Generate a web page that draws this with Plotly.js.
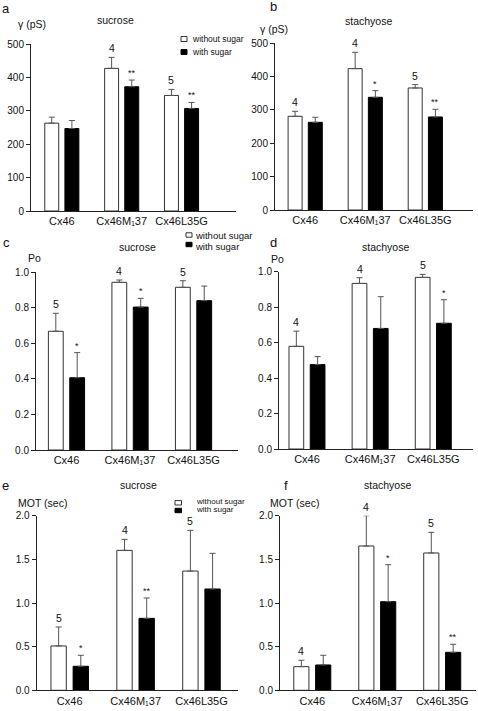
<!DOCTYPE html>
<html><head><meta charset="utf-8">
<script src="https://cdn.plot.ly/plotly-3.0.1.min.js"></script>
<style>html,body{margin:0;padding:0;background:#fff;}#chart{width:478px;height:711px;}</style>
</head><body><div id="chart"></div>
<script>
// ---------- data ----------
const categories = ["Cx46", "Cx46M137", "Cx46L35G"];
const tickLabels = ["Cx46", "Cx46M\u208137", "Cx46L35G"];
const seriesNames = ["without sugar", "with sugar"];

// a: gamma (pS), sucrose
const gammaSucWithout = [263, 427, 346];
const gammaSucWithoutErr = [18, 33, 18];
const gammaSucWith = [247, 372, 307];
const gammaSucWithErr = [24, 20, 18];
const gammaSucWithoutLbl = ["", "4", "5"];
const gammaSucWithLbl = ["", "**", "**"];

// b: gamma (pS), stachyose
const gammaStaWithout = [281, 424, 366];
const gammaStaWithoutErr = [15, 49, 10];
const gammaStaWith = [263, 338, 279];
const gammaStaWithErr = [15, 20, 23];
const gammaStaWithoutLbl = ["4", "4", "5"];
const gammaStaWithLbl = ["", "*", "**"];

// c: Po, sucrose
const poSucWithout = [0.667, 0.942, 0.914];
const poSucWithoutErr = [0.101, 0.013, 0.037];
const poSucWith = [0.406, 0.803, 0.839];
const poSucWithErr = [0.141, 0.049, 0.082];
const poSucWithoutLbl = ["5", "4", "5"];
const poSucWithLbl = ["*", "*", ""];

// d: Po, stachyose
const poStaWithout = [0.579, 0.934, 0.968];
const poStaWithoutErr = [0.086, 0.032, 0.017];
const poStaWith = [0.476, 0.680, 0.709];
const poStaWithErr = [0.045, 0.179, 0.133];
const poStaWithoutLbl = ["4", "4", "5"];
const poStaWithLbl = ["", "", "*"];

// e: MOT (sec), sucrose
const motSucWithout = [0.508, 1.603, 1.366];
const motSucWithoutErr = [0.217, 0.126, 0.466];
const motSucWith = [0.275, 0.824, 1.160];
const motSucWithErr = [0.126, 0.233, 0.409];
const motSucWithoutLbl = ["5", "4", "5"];
const motSucWithLbl = ["*", "**", ""];

// f: MOT (sec), stachyose
const motStaWithout = [0.271, 1.653, 1.573];
const motStaWithoutErr = [0.073, 0.347, 0.236];
const motStaWith = [0.290, 1.015, 0.435];
const motStaWithErr = [0.111, 0.424, 0.092];
const motStaWithoutLbl = ["4", "4", "5"];
const motStaWithLbl = ["", "*", "**"];

// ---------- layout / style ----------
const W = 478, H = 711;
const FONT = "Liberation Sans, Arial, Helvetica, sans-serif";
const px = v => v / W;
const py = v => 1 - v / H;
const BARGAP = 0.327, GROUPGAP = 0.307;
const half = (1 - BARGAP) / 4;
const FILLS = ["#ffffff", "#000000"];
const OUTLINES = ["#333333", "#000000"];

const panels = [
  {letter: "a", title: "sucrose", ylabel: "γ (pS)", w: gammaSucWithout, we: gammaSucWithoutErr, b: gammaSucWith, be: gammaSucWithErr, wl: gammaSucWithoutLbl, bl: gammaSucWithLbl,
   box: [31, 236, 44, 211], xr: [-0.515, 2.91], yr: [0, 500], dtick: 100, fmt: "d",
   letterPos: [0, 8], titlePos: [115, 20], ylabelPos: [32, 24],
   legend: {sx: [181, 187], sy: [39, 52], sh: 2.5, tx: 191, ty: [39, 52], size: 8.5}},
  {letter: "b", title: "stachyose", ylabel: "γ (pS)", w: gammaStaWithout, we: gammaStaWithoutErr, b: gammaStaWith, be: gammaStaWithErr, wl: gammaStaWithoutLbl, bl: gammaStaWithLbl,
   box: [275, 473, 43.3, 210], xr: [-0.503, 2.794], yr: [0, 500], dtick: 100, fmt: "d",
   letterPos: [268, 7], titlePos: [368, 21], ylabelPos: [274, 29]},
  {letter: "c", title: "sucrose", ylabel: "Po", w: poSucWithout, we: poSucWithoutErr, b: poSucWith, be: poSucWithErr, wl: poSucWithoutLbl, bl: poSucWithLbl,
   box: [36, 238, 272, 450], xr: [-0.48, 2.70], yr: [0, 1], dtick: 0.2, fmt: ".1f",
   letterPos: [1, 242], titlePos: [137, 247], ylabelPos: [34, 258],
   legend: {sx: [186, 192], sy: [235, 244.5], sh: 2.2, tx: 194, ty: [235.5, 246], size: 9.5}},
  {letter: "d", title: "stachyose", ylabel: "Po", w: poStaWithout, we: poStaWithoutErr, b: poStaWith, be: poStaWithErr, wl: poStaWithoutLbl, bl: poStaWithLbl,
   box: [279, 473, 271.7, 449], xr: [-0.443, 2.629], yr: [0, 1], dtick: 0.2, fmt: ".1f",
   letterPos: [268, 242], titlePos: [385, 247], ylabelPos: [277, 259]},
  {letter: "e", title: "sucrose", ylabel: "MOT (sec)", w: motSucWithout, we: motSucWithoutErr, b: motSucWith, be: motSucWithErr, wl: motSucWithoutLbl, bl: motSucWithLbl,
   box: [36.7, 238, 515.7, 690.3], xr: [-0.501, 2.554], yr: [0, 2], dtick: 0.5, fmt: ".1f",
   letterPos: [0, 485], titlePos: [138, 485], ylabelPos: [42, 503],
   legend: {sx: [175, 181.5], sy: [502.8, 510.5], sh: 2.2, tx: 194.7, ty: [501.3, 509.5], size: 8}},
  {letter: "f", title: "stachyose", ylabel: "MOT (sec)", w: motStaWithout, we: motStaWithoutErr, b: motStaWith, be: motStaWithErr, wl: motStaWithoutLbl, bl: motStaWithLbl,
   box: [280, 476, 515.7, 690.3], xr: [-0.497, 2.52], yr: [0, 2], dtick: 0.5, fmt: ".1f",
   letterPos: [282, 485], titlePos: [387, 485], ylabelPos: [294, 503]}
];

const traces = [];
const annotations = [];
const shapes = [];
const layout = {
  width: W, height: H,
  margin: {l: 0, r: 0, t: 0, b: 0},
  paper_bgcolor: "#fff", plot_bgcolor: "rgba(0,0,0,0)",
  barmode: "group", bargap: BARGAP, bargroupgap: GROUPGAP,
  font: {family: FONT, color: "#111", size: 10},
  showlegend: false
};

panels.forEach((p, i) => {
  const n = i === 0 ? "" : String(i + 1);
  const xa = "x" + n, ya = "y" + n;
  const zeros = categories.map(() => 0);
  const series = [
    {name: seriesNames[0], y: p.w, err: p.we, lbl: p.wl, side: -1},
    {name: seriesNames[1], y: p.b, err: p.be, lbl: p.bl, side: 1}
  ];
  series.forEach((s, k) => {
    traces.push({
      type: "bar", x: categories, y: s.y, name: s.name,
      xaxis: xa, yaxis: ya,
      marker: {color: FILLS[k], line: {color: OUTLINES[k], width: 1}},
      error_y: {type: "data", array: s.err, arrayminus: zeros, symmetric: false,
                color: "#555", thickness: 1, width: 3},
      showlegend: false
    });
    s.lbl.forEach((txt, j) => {
      if (!txt) return;
      const star = txt.indexOf("*") >= 0;
      annotations.push({
        xref: xa, yref: ya, x: j + s.side * half, y: s.y[j] + s.err[j],
        text: txt, showarrow: false, xanchor: "center", yanchor: "bottom",
        yshift: star ? 0 : 1,
        font: {family: FONT, size: star ? 9 : 10.5, color: "#111"}
      });
    });
  });

  const [x0, x1, yTop, yBot] = p.box;
  layout["xaxis" + n] = {
    type: "category", categoryorder: "array", categoryarray: categories,
    domain: [px(x0), px(x1)], range: p.xr, anchor: ya,
    showline: true, linecolor: "#222", linewidth: 1,
    ticks: "", tickvals: categories, ticktext: tickLabels,
    tickfont: {family: FONT, size: 11, color: "#111"},
    showgrid: false, zeroline: false, automargin: false, fixedrange: true
  };
  layout["yaxis" + n] = {
    domain: [py(yBot), py(yTop)], range: p.yr, anchor: xa,
    showline: true, linecolor: "#222", linewidth: 1,
    ticks: "outside", ticklen: 4, tickwidth: 1, tickcolor: "#222",
    dtick: p.dtick, tick0: 0, tickformat: p.fmt,
    tickfont: {family: FONT, size: 10, color: "#111"},
    showgrid: false, zeroline: false, automargin: false, fixedrange: true
  };

  annotations.push({xref: "paper", yref: "paper", x: px(p.letterPos[0]), y: py(p.letterPos[1]),
    text: p.letter, showarrow: false, xanchor: "left", yanchor: "middle",
    font: {family: FONT, size: 13, color: "#111"}});
  annotations.push({xref: "paper", yref: "paper", x: px(p.titlePos[0]), y: py(p.titlePos[1]),
    text: p.title, showarrow: false, xanchor: "center", yanchor: "middle",
    font: {family: FONT, size: 10.5, color: "#111"}});
  annotations.push({xref: "paper", yref: "paper", x: px(p.ylabelPos[0]), y: py(p.ylabelPos[1]),
    text: p.ylabel, showarrow: false, xanchor: "center", yanchor: "middle",
    font: {family: FONT, size: 10.5, color: "#111"}});

  if (p.legend) {
    const L = p.legend;
    seriesNames.forEach((nm, k) => {
      shapes.push({type: "rect", xref: "paper", yref: "paper",
        x0: px(L.sx[0]), x1: px(L.sx[1]), y0: py(L.sy[k] + L.sh), y1: py(L.sy[k] - L.sh),
        fillcolor: FILLS[k], line: {color: OUTLINES[k], width: 1}});
      annotations.push({xref: "paper", yref: "paper", x: px(L.tx), y: py(L.ty[k]),
        text: nm, showarrow: false, xanchor: "left", yanchor: "middle", borderpad: 0,
        font: {family: FONT, size: L.size, color: "#111"}});
    });
  }
});
layout.annotations = annotations;
layout.shapes = shapes;

Plotly.newPlot("chart", traces, layout, {staticPlot: true, displayModeBar: false});
</script>
</body></html>
